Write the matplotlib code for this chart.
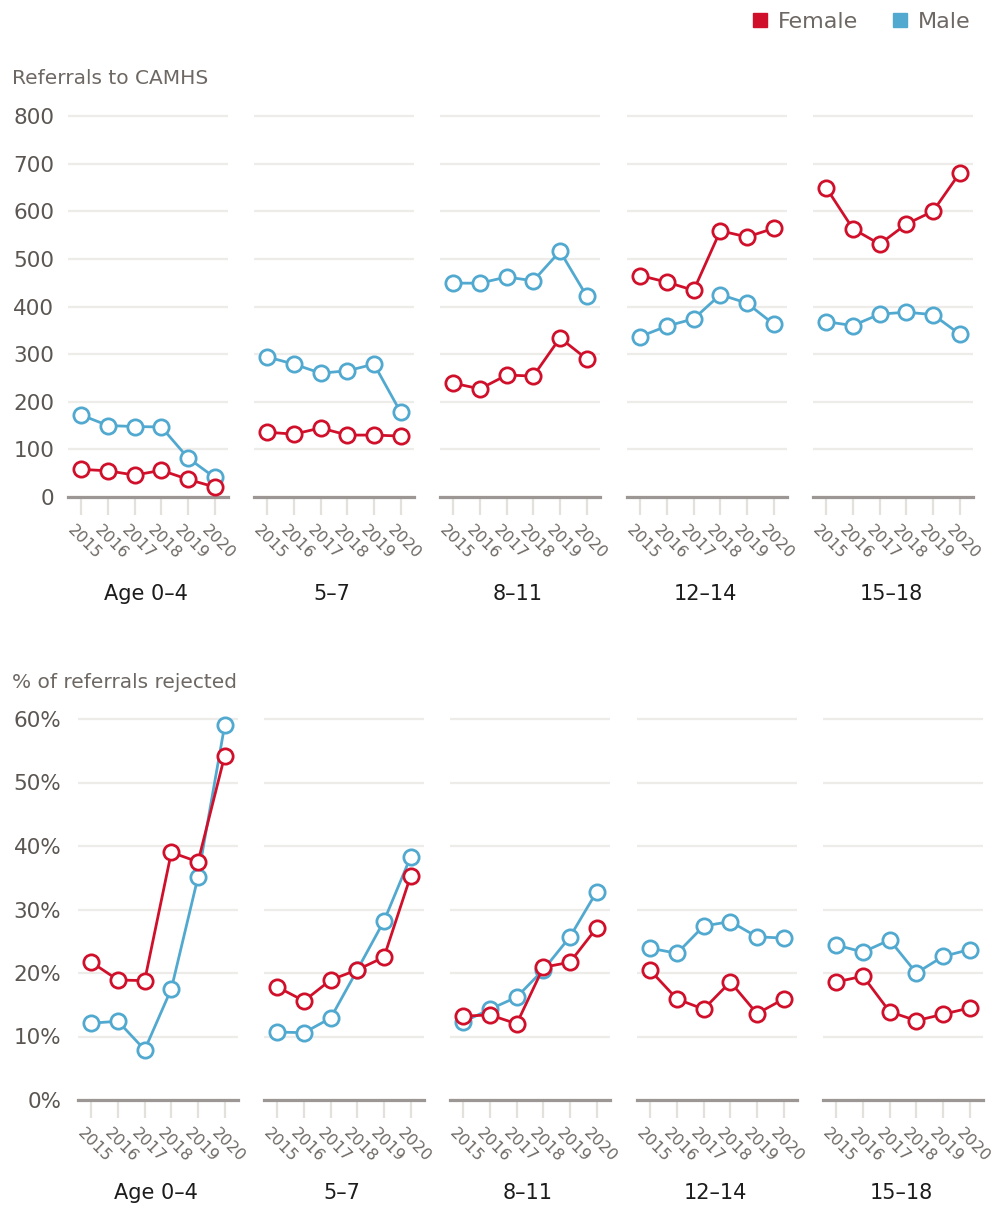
import numpy as np
import matplotlib
matplotlib.use("Agg")
import matplotlib.pyplot as plt
from matplotlib.lines import Line2D
from matplotlib.transforms import ScaledTranslation

plt.rcParams['font.family'] = ['DejaVu Sans']

years = [2015, 2016, 2017, 2018, 2019, 2020]
age_groups = ["Age 0\u20134", "5\u20137", "8\u201311", "12\u201314", "15\u201318"]

# Referrals to CAMHS
ref_female = [
    [58, 55, 46, 56, 37, 21],
    [136, 132, 145, 130, 130, 128],
    [239, 227, 256, 254, 334, 290],
    [465, 451, 434, 559, 546, 564],
    [649, 563, 531, 573, 600, 680],
]
ref_male = [
    [172, 150, 148, 147, 82, 41],
    [294, 279, 260, 265, 279, 178],
    [449, 449, 462, 454, 516, 422],
    [337, 359, 374, 425, 407, 363],
    [368, 360, 384, 388, 383, 342],
]

# % of referrals rejected
rej_female = [
    [21.7, 18.9, 18.8, 39.0, 37.5, 54.2],
    [17.8, 15.6, 18.9, 20.5, 22.5, 35.3],
    [13.2, 13.4, 12.0, 20.9, 21.7, 27.1],
    [20.4, 15.9, 14.3, 18.6, 13.6, 15.9],
    [18.6, 19.5, 13.9, 12.5, 13.5, 14.5],
]
rej_male = [
    [12.1, 12.4, 7.9, 17.5, 35.1, 59.0],
    [10.7, 10.6, 12.9, 20.5, 28.2, 38.3],
    [12.3, 14.3, 16.2, 20.5, 25.7, 32.8],
    [23.9, 23.1, 27.4, 28.1, 25.7, 25.5],
    [24.4, 23.3, 25.2, 20.0, 22.6, 23.7],
]

top_ticks = [0, 100, 200, 300, 400, 500, 600, 700, 800]
bot_ticks = [0, 10, 20, 30, 40, 50, 60]
bot_ticklabels = ["0%", "10%", "20%", "30%", "40%", "50%", "60%"]

RED = "#d0102b"
BLUE = "#52a9d0"
GRID = "#eeece8"
BASE = "#9c9794"
TICKC = "#e4e1dc"
YLAB = "#5b5652"
XLAB = "#6e6864"

W, H = 1000, 1208
fig = plt.figure(figsize=(W / 100, H / 100), dpi=100)

def make_panel(left_px, zero_px, top_px, ymax_val, ylim_top, female, male, ticks, ticklabels, show_y, label, label_y_px, ypad):
    px_per = (zero_px - top_px) / ymax_val
    height_px = ylim_top * px_per
    ax = fig.add_axes([left_px / W, 1 - zero_px / H, 160 / W, height_px / H])
    ax.set_xlim(2014.5, 2020.5)
    ax.set_ylim(0, ylim_top)
    for s in ["top", "right", "left"]:
        ax.spines[s].set_visible(False)
    ax.spines["bottom"].set_color(BASE)
    ax.spines["bottom"].set_linewidth(2.3)
    ax.spines["bottom"].set_zorder(3)
    ax.set_yticks(ticks)
    ax.yaxis.grid(True, color=GRID, linewidth=1.6)
    ax.set_axisbelow(True)
    ax.tick_params(axis="y", length=0, pad=ypad, labelsize=15.5, labelcolor=YLAB)
    if show_y:
        ax.set_yticklabels(ticklabels)
    else:
        ax.set_yticklabels([])
    ax.set_xticks(years)
    ax.set_xticklabels([str(y) for y in years], rotation=-45, ha="left", va="center",
                       rotation_mode="anchor")
    ax.tick_params(axis="x", length=13, width=1.6, color=TICKC, direction="out",
                   pad=9, labelsize=11.5, labelcolor=XLAB)
    off = ScaledTranslation(-11 / 100, 0, fig.dpi_scale_trans)
    for lab in ax.get_xticklabels():
        lab.set_transform(lab.get_transform() + off)
    ms = 11
    ax.plot(years, male, color=BLUE, lw=2.0, marker="o", ms=ms, mfc="white",
            mec=BLUE, mew=2.0, zorder=4, clip_on=False)
    ax.plot(years, female, color=RED, lw=2.0, marker="o", ms=ms, mfc="white",
            mec=RED, mew=2.0, zorder=5, clip_on=False)
    fig.text((left_px + 78) / W, 1 - label_y_px / H, label, ha="center", va="center",
             fontsize=15, color="#1c1c1c")
    return ax

top_lefts = [68, 254, 440, 627, 813]
bot_lefts = [78, 264, 450, 637, 823]

for i in range(5):
    make_panel(top_lefts[i], 497, 116, 800, 808, ref_female[i], ref_male[i],
               top_ticks, [str(t) for t in top_ticks], i == 0, age_groups[i], 594, 10)
    make_panel(bot_lefts[i], 1100, 719, 60, 60.6, rej_female[i], rej_male[i],
               bot_ticks, bot_ticklabels, i == 0, age_groups[i], 1193, 12)

fig.text(12 / W, 1 - 78 / H, "Referrals to CAMHS", ha="left", va="center",
         fontsize=14.5, color=XLAB)
fig.text(12 / W, 1 - 682 / H, "% of referrals rejected", ha="left", va="center",
         fontsize=14.5, color=XLAB)

handles = [
    Line2D([], [], linestyle="none", marker="s", ms=10, mfc=RED, mec=RED),
    Line2D([], [], linestyle="none", marker="s", ms=10, mfc=BLUE, mec=BLUE),
]
leg = fig.legend(handles, ["Female", "Male"], loc="upper right", ncol=2, frameon=False,
                 bbox_to_anchor=(0.99, 1.007), fontsize=16, handlelength=0.7,
                 handletextpad=0.45, columnspacing=1.5, labelcolor=XLAB)

fig.savefig("out.png", dpi=100, facecolor="white")
